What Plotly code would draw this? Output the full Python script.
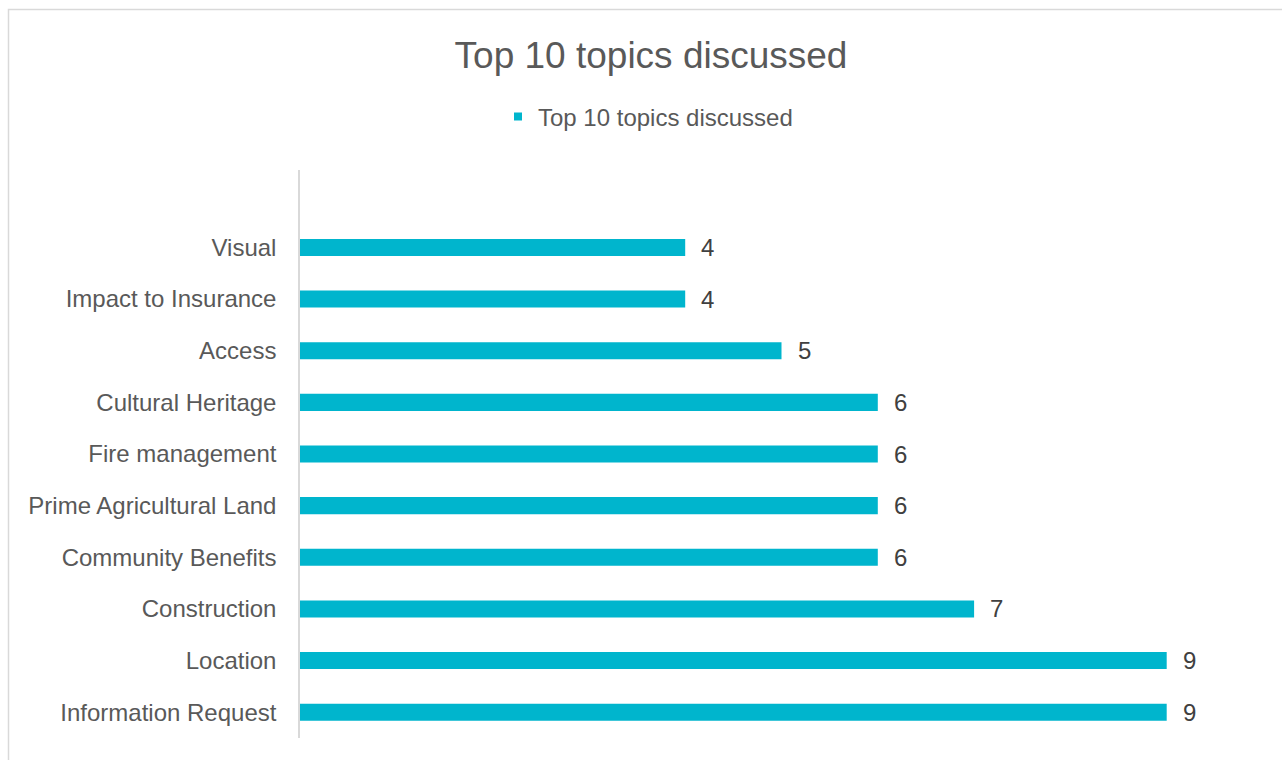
import plotly.graph_objects as go

# Topics listed bottom-to-top, with how often each came up
topics = [
    "Information Request",
    "Location",
    "Construction",
    "Community Benefits",
    "Prime Agricultural Land",
    "Fire management",
    "Cultural Heritage",
    "Access",
    "Impact to Insurance",
    "Visual",
]
counts = [9, 9, 7, 6, 6, 6, 6, 5, 4, 4]

series_name = "Top 10 topics discussed"
bar_color = "#00B5CD"
text_color = "#595959"
line_color = "#D9D9D9"
font_family = "Liberation Sans, Arial, sans-serif"

W, H = 1282, 760
L, R, T, B = 300, 19, 170, 22
plot_w = W - L - R
plot_h = H - T - B

fig = go.Figure()

fig.add_trace(go.Bar(
    x=counts,
    y=topics,
    orientation="h",
    width=0.33,
    marker=dict(color=bar_color, line=dict(width=0)),
    showlegend=False,
    hoverinfo="x+y",
))

# Legend entry with a small square swatch
fig.add_trace(go.Scatter(
    x=[None], y=[None],
    mode="markers",
    name=series_name,
    marker=dict(symbol="square", size=8, color=bar_color),
))

# Value labels to the right of each bar
for t, c in zip(topics, counts):
    fig.add_annotation(
        x=c, y=t, text=str(c),
        showarrow=False, xanchor="left", yanchor="middle",
        xshift=14,
        font=dict(size=24, color="#404040", family=font_family),
    )

# Chart-area border (light grey frame)
fig.add_shape(
    type="rect", xref="paper", yref="paper",
    x0=(8.5 - L) / plot_w, x1=1.2,
    y0=-0.2, y1=(H - B - 9.5) / plot_h,
    line=dict(color=line_color, width=1.5),
    fillcolor="rgba(0,0,0,0)", layer="below",
)

fig.update_layout(
    width=W, height=H,
    margin=dict(l=L, r=R, t=T, b=B),
    paper_bgcolor="white",
    plot_bgcolor="white",
    font=dict(family=font_family, color=text_color),
    title=dict(
        text="Top 10 topics discussed",
        x=651 / W, xanchor="center",
        y=1 - 55 / H, yanchor="middle", yref="container",
        font=dict(size=37, color=text_color, family=font_family),
    ),
    legend=dict(
        orientation="h",
        x=648 / W, xanchor="center", xref="container",
        y=1 - 117 / H, yanchor="middle", yref="container",
        font=dict(size=24, color=text_color, family=font_family),
        itemwidth=30,
    ),
    xaxis=dict(
        range=[0, 10],
        showgrid=False, zeroline=False, showline=False,
        showticklabels=False, ticks="",
        fixedrange=True,
    ),
    yaxis=dict(
        type="category",
        categoryorder="array", categoryarray=topics,
        range=[-0.5, 10.5],
        showgrid=False, zeroline=False,
        showline=True, linecolor=line_color, linewidth=1.5,
        ticks="",
        ticklabelstandoff=17,
        tickfont=dict(size=24, color=text_color, family=font_family),
        fixedrange=True,
    ),
    bargap=0.67,
)

fig.write_html("out.html")
